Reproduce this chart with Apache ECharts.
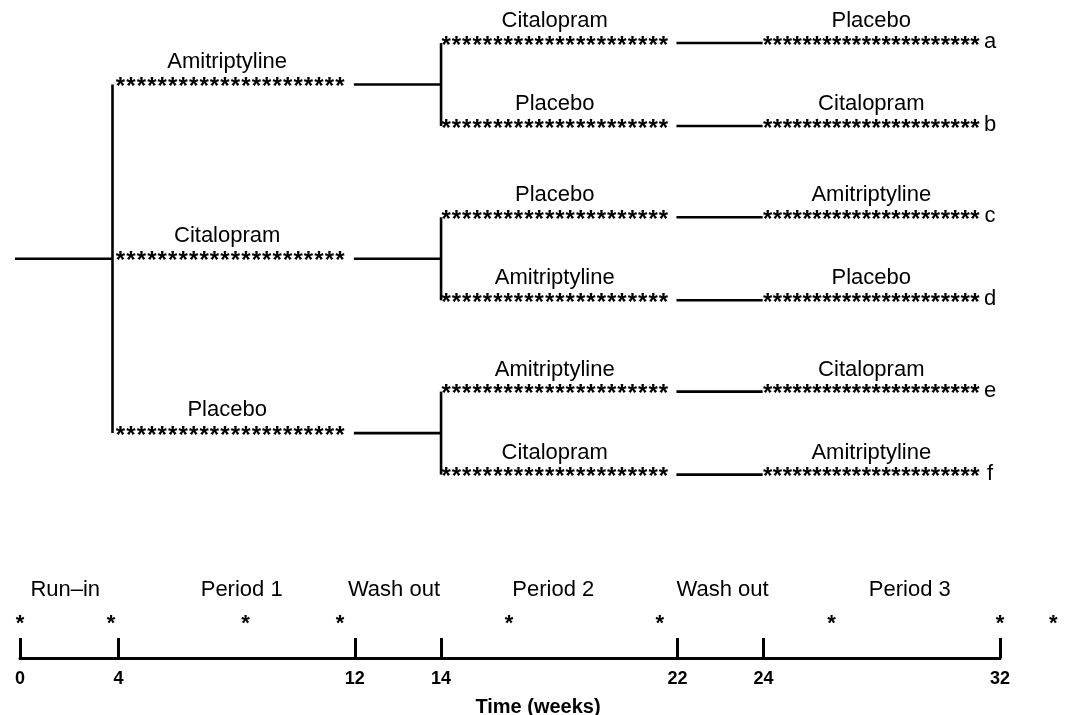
<!DOCTYPE html>
<html><head><meta charset="utf-8">
<script src="https://cdn.jsdelivr.net/npm/echarts@6/dist/echarts.min.js"></script>
<style>html,body{margin:0;padding:0;background:#fff}#c{width:1065px;height:715px}</style>
</head><body><div id="c"></div><script>
// ---- data ----
const phaseNames = ['Run–in', 'Period 1', 'Wash out', 'Period 2', 'Wash out', 'Period 3'];
const phaseWeeks = [4, 8, 2, 8, 2, 8];
const tickWeeks = [0, 4, 12, 14, 22, 24, 32];
const visitWeeks = [0, 3.7, 8.3, 11.5, 16.3, 21.4, 26.3, 32, 33.8];
const groupTreatment = ['Amitriptyline', 'Citalopram', 'Placebo'];
const armLetters = ['a', 'b', 'c', 'd', 'e', 'f'];
const armPeriod2 = ['Citalopram', 'Placebo', 'Placebo', 'Amitriptyline', 'Amitriptyline', 'Citalopram'];
const armPeriod3 = ['Placebo', 'Citalopram', 'Amitriptyline', 'Placebo', 'Citalopram', 'Amitriptyline'];
const starsPerPeriod = 22;

// ---- layout (the figure draws wash-outs wider than true scale) ----
const phaseStretch = [1, 1.2, 1.75, 1.2, 1.75, 1.2];
const phaseLabelNudge = [-4, 5, -4, -6, 2, 28];
const GROUP_STEP = 2.1;
const VISIT_ROW = 0.53;
const phaseStart = [], drawStart = [];
let wk = 0, dr = 0;
for (let i = 0; i < phaseWeeks.length; i++) {
  phaseStart.push(wk); drawStart.push(dr);
  wk += phaseWeeks[i]; dr += phaseWeeks[i] * phaseStretch[i];
}
const totalDraw = dr;
function wx(week) {
  for (let i = phaseWeeks.length - 1; i >= 0; i--) {
    if (week >= phaseStart[i] || i === 0) return drawStart[i] + (week - phaseStart[i]) * phaseStretch[i];
  }
}
const FONT = '"Liberation Sans", Arial, sans-serif';
const STAR_FONT = 'bold 24px "Liberation Sans", Arial, sans-serif';
const VISIT_FONT = 'bold 22px "Liberation Sans", Arial, sans-serif';
const STAR_DY = 3;
function starRow(x0, x1, y, n) {
  const out = [];
  for (let i = 0; i < n; i++) {
    const x = x0 + (x1 - x0) * i / (n - 1);
    out.push({ type: 'text', silent: true, style: { text: '*', x: x, y: y + STAR_DY, align: 'center', verticalAlign: 'middle', font: STAR_FONT, fill: '#000' } });
  }
  return out;
}
function label(text, x, y, font) {
  return { type: 'text', silent: true, style: { text: text, x: x, y: y, align: 'center', verticalAlign: 'middle', font: font || ('22px ' + FONT), fill: '#000' } };
}
function seg(x1, y1, x2, y2) {
  return { type: 'line', silent: true, shape: { x1: x1, y1: y1, x2: x2, y2: y2 }, style: { stroke: '#000', lineWidth: 2.6 } };
}
const armY = i => Math.floor(i / 2) * GROUP_STEP + (i % 2);
const groupY = g => g * GROUP_STEP + 0.5;

const chart = echarts.init(document.getElementById('c'), null, { renderer: 'canvas' });
chart.setOption({
  backgroundColor: '#fff',
  animation: false,
  grid: [
    { left: 20, right: 65, top: 43, height: 431.6, outerBoundsMode: 'none', containLabel: false },
    { left: 20, right: 65, top: 588, bottom: 57, outerBoundsMode: 'none', containLabel: false }
  ],
  xAxis: [
    { gridIndex: 0, type: 'value', min: 0, max: totalDraw, show: false },
    {
      gridIndex: 1, type: 'value', min: 0, max: totalDraw,
      axisLine: { show: true, lineStyle: { color: '#000', width: 3 } },
      axisTick: { show: true, inside: true, length: 20, lineStyle: { color: '#000', width: 3 }, customValues: tickWeeks.map(wx) },
      axisLabel: {
        show: true, customValues: tickWeeks.map(wx), margin: 12,
        color: '#000', fontWeight: 'bold', fontSize: 18, fontFamily: FONT,
        formatter: v => {
          let best = 0;
          tickWeeks.forEach((t, i) => { if (Math.abs(wx(t) - v) < Math.abs(wx(tickWeeks[best]) - v)) best = i; });
          return String(tickWeeks[best]);
        }
      },
      splitLine: { show: false },
      name: 'Time (weeks)', nameLocation: 'middle', nameGap: 39,
      nameTextStyle: { color: '#000', fontWeight: 'bold', fontSize: 20, fontFamily: FONT, padding: [0, 0, 0, 56] }
    }
  ],
  yAxis: [
    { gridIndex: 0, type: 'value', min: 0, max: 5.2, inverse: true, show: false },
    { gridIndex: 1, type: 'value', min: 0, max: 1, show: false }
  ],
  series: [
    { // trunk
      type: 'custom', xAxisIndex: 0, yAxisIndex: 0, clip: false,
      data: [[wx(4), groupY(1)]],
      renderItem: (params, api) => {
        const xT = api.coord([wx(4), 0])[0] - 6;
        const x0 = api.coord([wx(0), 0])[0] - 5;
        const yTop = api.coord([0, groupY(0)])[1];
        const yBot = api.coord([0, groupY(2)])[1];
        const yMid = api.coord([0, groupY(1)])[1];
        return { type: 'group', children: [seg(xT, yTop, xT, yBot), seg(x0, yMid, xT, yMid)] };
      }
    },
    { // first-period groups
      type: 'custom', xAxisIndex: 0, yAxisIndex: 0, clip: false,
      data: groupTreatment.map((t, g) => [wx(4), groupY(g)]),
      renderItem: (params, api) => {
        const g = params.dataIndex;
        const y = api.coord([0, api.value(1)])[1];
        const x4 = api.coord([wx(4), 0])[0];
        const x12 = api.coord([wx(12), 0])[0];
        const x14 = api.coord([wx(14), 0])[0];
        const yA = api.coord([0, armY(2 * g)])[1];
        const yB = api.coord([0, armY(2 * g + 1)])[1];
        const s0 = x4 + 2, s1 = x12 - 15;
        const ch = starRow(s0, s1, y, starsPerPeriod);
        ch.push(label(groupTreatment[g], (s0 + s1) / 2 - 3, y - 23));
        ch.push(seg(x12 - 1, y, x14, y));
        ch.push(seg(x14, yA, x14, yB));
        return { type: 'group', children: ch };
      }
    },
    { // arms: period 2, wash out, period 3
      type: 'custom', xAxisIndex: 0, yAxisIndex: 0, clip: false,
      data: armLetters.map((a, i) => [wx(14), armY(i)]),
      renderItem: (params, api) => {
        const i = params.dataIndex;
        const y = api.coord([0, api.value(1)])[1];
        const x14 = api.coord([wx(14), 0])[0];
        const x22 = api.coord([wx(22), 0])[0];
        const x24 = api.coord([wx(24), 0])[0];
        const x32 = api.coord([wx(32), 0])[0];
        const a0 = x14 + 5, a1 = x22 - 14;
        const b0 = x24 + 4, b1 = x32 - 25;
        let ch = starRow(a0, a1, y, starsPerPeriod);
        ch = ch.concat(starRow(b0, b1, y, starsPerPeriod));
        ch.push(label(armPeriod2[i], (a0 + a1) / 2, y - 22));
        ch.push(label(armPeriod3[i], (b0 + b1) / 2, y - 22));
        ch.push(seg(x22 - 1, y, x24 - 1, y));
        ch.push(label(armLetters[i], x32 - 10, y - 1));
        return { type: 'group', children: ch };
      }
    },
    { // phase names
      type: 'custom', xAxisIndex: 1, yAxisIndex: 1, clip: false,
      data: phaseNames.map((n, i) => [wx(phaseStart[i] + phaseWeeks[i] / 2), 1]),
      renderItem: (params, api) => {
        const p = api.coord([api.value(0), api.value(1)]);
        return label(phaseNames[params.dataIndex], p[0] + phaseLabelNudge[params.dataIndex], p[1] + 2);
      }
    },
    { // assessment visits
      type: 'custom', xAxisIndex: 1, yAxisIndex: 1, clip: false,
      data: visitWeeks.map(w => [wx(w), VISIT_ROW]),
      renderItem: (params, api) => {
        const p = api.coord([api.value(0), api.value(1)]);
        return { type: 'text', silent: true, style: { text: '*', x: p[0], y: p[1] + STAR_DY, align: 'center', verticalAlign: 'middle', font: VISIT_FONT, fill: '#000' } };
      }
    }
  ]
});
</script></body></html>
